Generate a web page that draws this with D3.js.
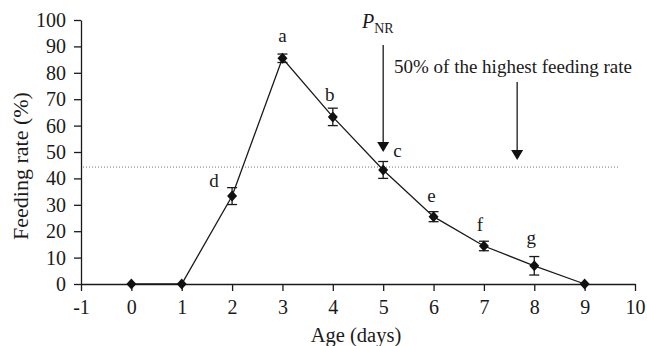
<!DOCTYPE html>
<html>
<head>
<meta charset="utf-8">
<script src="https://cdn.jsdelivr.net/npm/d3@7"></script>
<style>
  html, body { margin: 0; padding: 0; background: #fff; }
  svg { display: block; }
</style>
</head>
<body>
<svg id="chart" width="647" height="346"></svg>
<script>
// ---- data ----
const ages = [0, 1, 2, 3, 4, 5, 6, 7, 8, 9];
const feedingRate = [0, 0, 33.3, 85.5, 63.3, 43.2, 25.5, 14.4, 6.9, 0];
const errors = [0, 0, 3.2, 1.6, 3.3, 3.2, 1.9, 1.8, 3.5, 0];
const letters = ["", "", "d", "a", "b", "c", "e", "f", "g", ""];
const xTicks = [-1, 0, 1, 2, 3, 4, 5, 6, 7, 8, 9, 10];
const yTicks = [0, 10, 20, 30, 40, 50, 60, 70, 80, 90, 100];
const halfLine = 44.3;          // dotted reference line value
const pnrAge = 5;               // P_NR arrow position
const halfArrowAge = 7.66;      // "50%" arrow position

// ---- layout ----
const SERIF = "'Liberation Serif', 'Times New Roman', Times, 'DejaVu Serif', serif";
const svg = d3.select("#chart").attr("font-family", SERIF).style("font-family", SERIF);
const x = d3.scaleLinear().domain([-1, 10]).range([81, 635]);
const y = d3.scaleLinear().domain([0, 100]).range([284, 20]);
const fontAxis = "20px";
const ink = "#1a1a1a";

function serifText(sel, size) {
  return sel.attr("font-family", SERIF).style("font-family", SERIF)
    .style("font-size", size).attr("fill", ink);
}

// letter label offsets (px) relative to point
const letterOffsets = {
  "d": [-18, -9, "middle"],
  "a": [0, -16, "middle"],
  "b": [-3, -16, "middle"],
  "c": [10, -13, "start"],
  "e": [-2, -15, "middle"],
  "f": [-4, -15, "middle"],
  "g": [-3, -22, "middle"]
};

// dotted reference line
svg.append("line")
  .attr("x1", 83).attr("x2", 620)
  .attr("y1", y(halfLine)).attr("y2", y(halfLine))
  .attr("stroke", "#777").attr("stroke-width", 1)
  .attr("stroke-dasharray", "1,2");

// axes
const yAxis = d3.axisLeft(y).tickValues(yTicks).tickSize(7).tickSizeOuter(0).tickPadding(8);
const gy = svg.append("g").attr("transform", `translate(${x(-1)},0)`).call(yAxis);
const xAxis = d3.axisBottom(x).tickValues(xTicks).tickSize(7).tickSizeOuter(0).tickPadding(9)
  .tickFormat(d => d < 0 ? "-" + Math.abs(d) : String(d));
const gx = svg.append("g").attr("transform", `translate(0,${y(0)})`).call(xAxis);
[gx, gy].forEach(g => {
  g.attr("font-family", SERIF).attr("font-size", 20);
  g.selectAll("path.domain").attr("stroke", ink).attr("stroke-width", 1.3);
  g.selectAll(".tick line").attr("stroke", ink).attr("stroke-width", 1.3);
  serifText(g.selectAll(".tick text"), fontAxis);
});

// axis titles
serifText(svg.append("text"), "20.5px")
  .attr("x", 356).attr("y", 342)
  .attr("text-anchor", "middle")
  .text("Age (days)");
serifText(svg.append("text"), "22px")
  .attr("transform", `translate(28,166) rotate(-90)`)
  .attr("text-anchor", "middle")
  .text("Feeding rate (%)");

// data line
const pts = ages.map((a, i) => ({ age: a, v: feedingRate[i], e: errors[i], l: letters[i] }));
svg.append("path")
  .datum(pts)
  .attr("fill", "none").attr("stroke", ink).attr("stroke-width", 1.3)
  .attr("d", d3.line().x(d => x(d.age)).y(d => y(d.v)));

// error bars
const eb = svg.append("g").attr("stroke", ink).attr("stroke-width", 1.3);
pts.filter(d => d.e > 0).forEach(d => {
  const cx = x(d.age);
  eb.append("line").attr("x1", cx).attr("x2", cx).attr("y1", y(d.v + d.e)).attr("y2", y(d.v - d.e));
  eb.append("line").attr("x1", cx - 5).attr("x2", cx + 5).attr("y1", y(d.v + d.e)).attr("y2", y(d.v + d.e));
  eb.append("line").attr("x1", cx - 5).attr("x2", cx + 5).attr("y1", y(d.v - d.e)).attr("y2", y(d.v - d.e));
});

// diamond markers
svg.append("g").selectAll("path").data(pts).join("path")
  .attr("fill", "#111")
  .attr("d", d => {
    const cx = x(d.age), cy = y(d.v);
    return `M${cx},${cy - 5.5}L${cx + 5},${cy}L${cx},${cy + 5.5}L${cx - 5},${cy}Z`;
  });

// letters
serifText(svg.append("g").selectAll("text").data(pts.filter(d => d.l)).join("text"), "19px")
  .attr("x", d => x(d.age) + letterOffsets[d.l][0])
  .attr("y", d => y(d.v) + letterOffsets[d.l][1])
  .attr("text-anchor", d => letterOffsets[d.l][2])
  .text(d => d.l);

// arrows
function arrow(xv, y1, y2) {
  const g = svg.append("g");
  g.append("line").attr("x1", xv).attr("x2", xv).attr("y1", y1).attr("y2", y2 - 10)
    .attr("stroke", ink).attr("stroke-width", 1.3);
  g.append("path").attr("fill", "#111")
    .attr("d", `M${xv - 6},${y2 - 10}L${xv + 6},${y2 - 10}L${xv},${y2}Z`);
}
arrow(x(pnrAge), 45, y(50));
arrow(x(halfArrowAge), 82, y(47));

// P_NR label
const pl = serifText(svg.append("text"), "20px").attr("x", 362).attr("y", 28);
pl.append("tspan").style("font-style", "italic").text("P");
pl.append("tspan").attr("dy", 5).style("font-size", "14px").text("NR");

// 50% label
serifText(svg.append("text"), "19px").attr("x", 394).attr("y", 73)
  .text("50% of the highest feeding rate");
</script>
</body>
</html>
